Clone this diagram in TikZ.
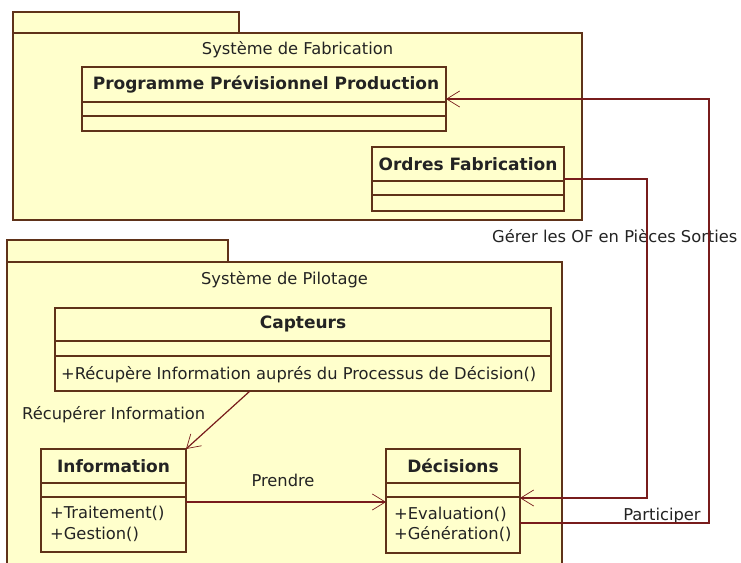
\documentclass[tikz,border=0pt]{standalone}
\usepackage{fontspec}
\setmainfont{DejaVu Sans}
\usetikzlibrary{arrows.meta}
\definecolor{pkgfill}{RGB}{255,255,204}
\definecolor{edgecol}{RGB}{95,50,25}
\definecolor{linkcol}{RGB}{120,28,28}
\definecolor{txt}{RGB}{35,35,35}
\tikzset{
  pkgpart/.style={draw=edgecol, fill=pkgfill, line width=1.1pt, inner sep=0pt, outer sep=0pt, anchor=north west},
  umlclass/.style={draw=edgecol, fill=pkgfill, line width=1.1pt, inner sep=0pt, outer sep=0pt, anchor=north west},
  cline/.style={draw=edgecol, line width=1.1pt},
  lbl/.style={text=txt, font=\fontsize{16.3}{20}\selectfont, inner sep=0pt},
  cname/.style={text=txt, font=\fontsize{17}{20}\selectfont\bfseries, inner sep=0pt},
  assoc/.style={draw=linkcol, line width=1.2pt},
  nav/.style={-{Straight Barb[length=13pt,width=16pt,line width=0.7pt]}}
}
\begin{document}
\begin{tikzpicture}[x=1pt,y=-1pt]
\useasboundingbox (0,0) rectangle (741,562);
\fill[white] (0,0) rectangle (741,562);
% package Fabrication
\node[pkgpart, minimum width=226pt, minimum height=21pt] (fabtab) at (13,12) {};
\node[pkgpart, minimum width=569pt, minimum height=187pt] (fab) at (13,33) {};
\node[lbl] (fabtitle) at (297.5,50) {Système de Fabrication};
% package Pilotage
\node[pkgpart, minimum width=221pt, minimum height=22pt] (piltab) at (7,240) {};
\node[pkgpart, minimum width=555pt, minimum height=320pt] (pil) at (7,262) {};
\node[lbl] (piltitle) at (284.5,280) {Système de Pilotage};
% classes
\node[umlclass, minimum width=364pt, minimum height=64pt] (ppp) at (82,67) {};
\draw[cline] (82,102) -- (446,102) (82,116) -- (446,116);
\node[cname] (pppname) at (266,85) {Programme Prévisionnel Production};

\node[umlclass, minimum width=192pt, minimum height=64pt] (of) at (372,147) {};
\draw[cline] (372,181) -- (564,181) (372,195) -- (564,195);
\node[cname] (ofname) at (468,164) {Ordres Fabrication};

\node[umlclass, minimum width=496pt, minimum height=83pt] (capt) at (55,308) {};
\draw[cline] (55,341) -- (551,341) (55,356) -- (551,356);
\node[cname] (captname) at (303,324) {Capteurs};
\node[lbl, anchor=west] (captop) at (61,375) {+Récupère Information auprés du Processus de Décision()};

\node[umlclass, minimum width=145pt, minimum height=103pt] (info) at (41,449) {};
\draw[cline] (41,483) -- (186,483) (41,497) -- (186,497);
\node[cname] (infoname) at (113.5,466) {Information};
\node[lbl, anchor=west] (infoop1) at (50,513) {+Traitement()};
\node[lbl, anchor=west] (infoop2) at (50,534) {+Gestion()};

\node[umlclass, minimum width=134pt, minimum height=104pt] (dec) at (386,449) {};
\draw[cline] (386,483) -- (520,483) (386,497) -- (520,497);
\node[cname] (decname) at (453,466) {Décisions};
\node[lbl, anchor=west] (decop1) at (394,514) {+Evaluation()};
\node[lbl, anchor=west] (decop2) at (394,534) {+Génération()};

% labels
\node[lbl, anchor=west] (gerer) at (492,236) {Gérer les OF en Pièces Sorties};
\node[lbl] (particip) at (662,516) {Participer};
\node[lbl] (prendre) at (283,480) {Prendre};
\node[lbl, anchor=west] (recup) at (22,415) {Récupérer Information};

% connectors
\draw[assoc,nav] (of.east) -- (of.east -| 647,0) |- (dec.east |- 0,498);
\draw[assoc,nav] (dec.east |- 0,523) -| (ppp.east -| 709,0) -- (ppp.east);
\draw[assoc,nav] (info.east |- 0,502) -- (dec.west |- 0,502);
\draw[assoc,nav] (capt.south -| 250,0) -- (info.north east);
\end{tikzpicture}
\end{document}
